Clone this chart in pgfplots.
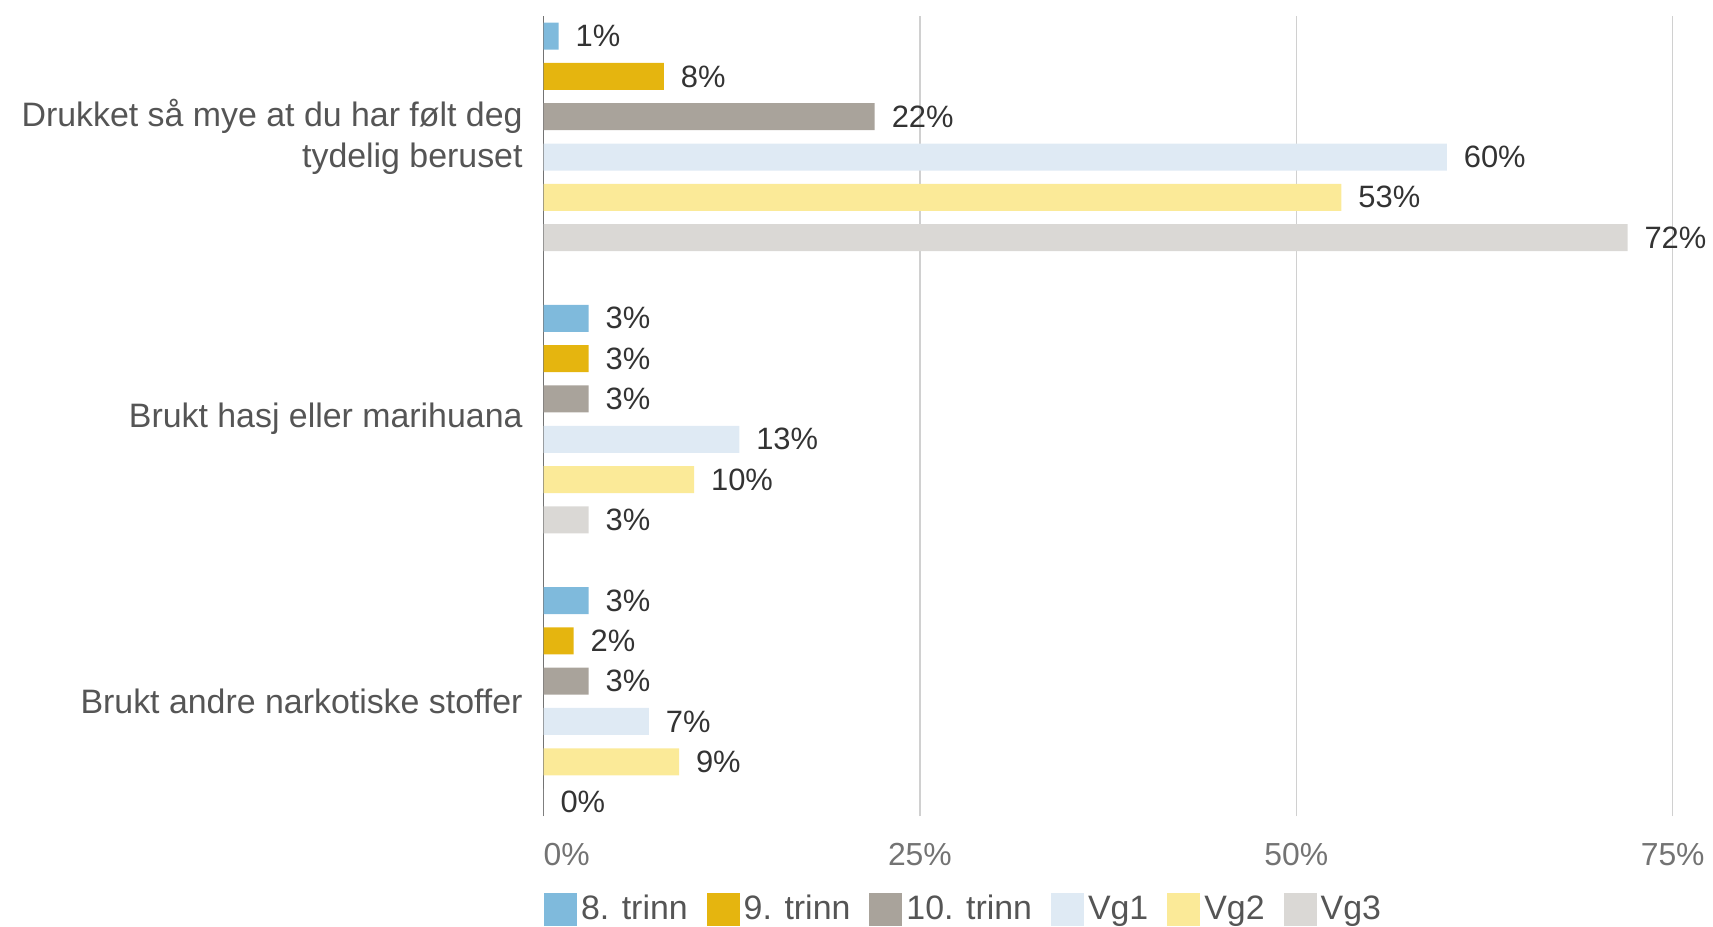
\documentclass[border=0pt]{standalone}
\usepackage{pgfplots}
\pgfplotsset{compat=1.18}
\usepackage{fontspec}
\setmainfont{Liberation Sans}

\definecolor{c8}{HTML}{7FBADC}
\definecolor{c9}{HTML}{E5B50F}
\definecolor{c10}{HTML}{A9A39B}
\definecolor{cvg1}{HTML}{DFEAF4}
\definecolor{cvg2}{HTML}{FBEA98}
\definecolor{cvg3}{HTML}{DAD8D5}
\definecolor{txt}{HTML}{333333}
\definecolor{lbl}{HTML}{555555}
\definecolor{gridc}{HTML}{D0D0D0}

\begin{document}
\begin{tikzpicture}
\begin{axis}[
    name=main,
    scale only axis,
    width=566.5pt, height=401.5pt,
    xbar, bar width=0.67, bar shift=0pt,
    xmin=0, xmax=75,
    ymin=-19.35, ymax=0.5,
    /pgf/number format/assume math mode=true,
    axis x line=bottom, axis y line=left,
    x axis line style={draw=none},
    y axis line style={-, draw=black!55, line width=0.8pt},
    xtick={0,25,50,75},
    xticklabels={\rlap{0\%},25\%,50\%,75\%},
    xmajorgrids, major grid style={gridc, line width=0.8pt},
    major tick length=0pt,
    xticklabel style={font=\fontsize{16}{19}\selectfont, text=black!55, yshift=-10pt},
    ytick={-16.5,-9.5,-2.5},
    yticklabels={Brukt andre narkotiske stoffer, Brukt hasj eller marihuana, {Drukket så mye at du har følt deg\\tydelig beruset}},
    yticklabel style={align=right, font=\fontsize{17}{20.2}\selectfont, text=lbl, xshift=-7pt},
    point meta=x,
    nodes near coords={\pgfmathprintnumber{\pgfplotspointmeta}\%},
    nodes near coords style={font=\fontsize{15.5}{18}\selectfont, text=txt, anchor=west, xshift=5pt},
    legend columns=6,
    legend style={draw=none, fill=none, inner sep=0pt, at={(0,0)}, anchor=north west, yshift=-37.5pt,
        font=\fontsize{17}{20}\selectfont, text=lbl,
        /tikz/every even column/.append style={column sep=7.5pt}},
    legend cell align=left,
    legend image code/.code={\fill[#1] (0pt,-8.5pt) rectangle (16.6pt,8.1pt);},
]
\addplot[fill=c8, draw=none] coordinates {(1,0) (3,-7) (3,-14)};
\addplot[fill=c9, draw=none] coordinates {(8,-1) (3,-8) (2,-15)};
\addplot[fill=c10, draw=none] coordinates {(22,-2) (3,-9) (3,-16)};
\addplot[fill=cvg1, draw=none] coordinates {(60,-3) (13,-10) (7,-17)};
\addplot[fill=cvg2, draw=none] coordinates {(53,-4) (10,-11) (9,-18)};
\addplot[fill=cvg3, draw=none] coordinates {(72,-5) (3,-12) (0,-19)};
\legend{8. trinn, 9. trinn, 10. trinn, Vg1, Vg2, Vg3}
\end{axis}
\path ([yshift=8pt]main.north) ++(0,0);
\path ([xshift=-7.5pt]current bounding box.west);
\end{tikzpicture}
\end{document}
